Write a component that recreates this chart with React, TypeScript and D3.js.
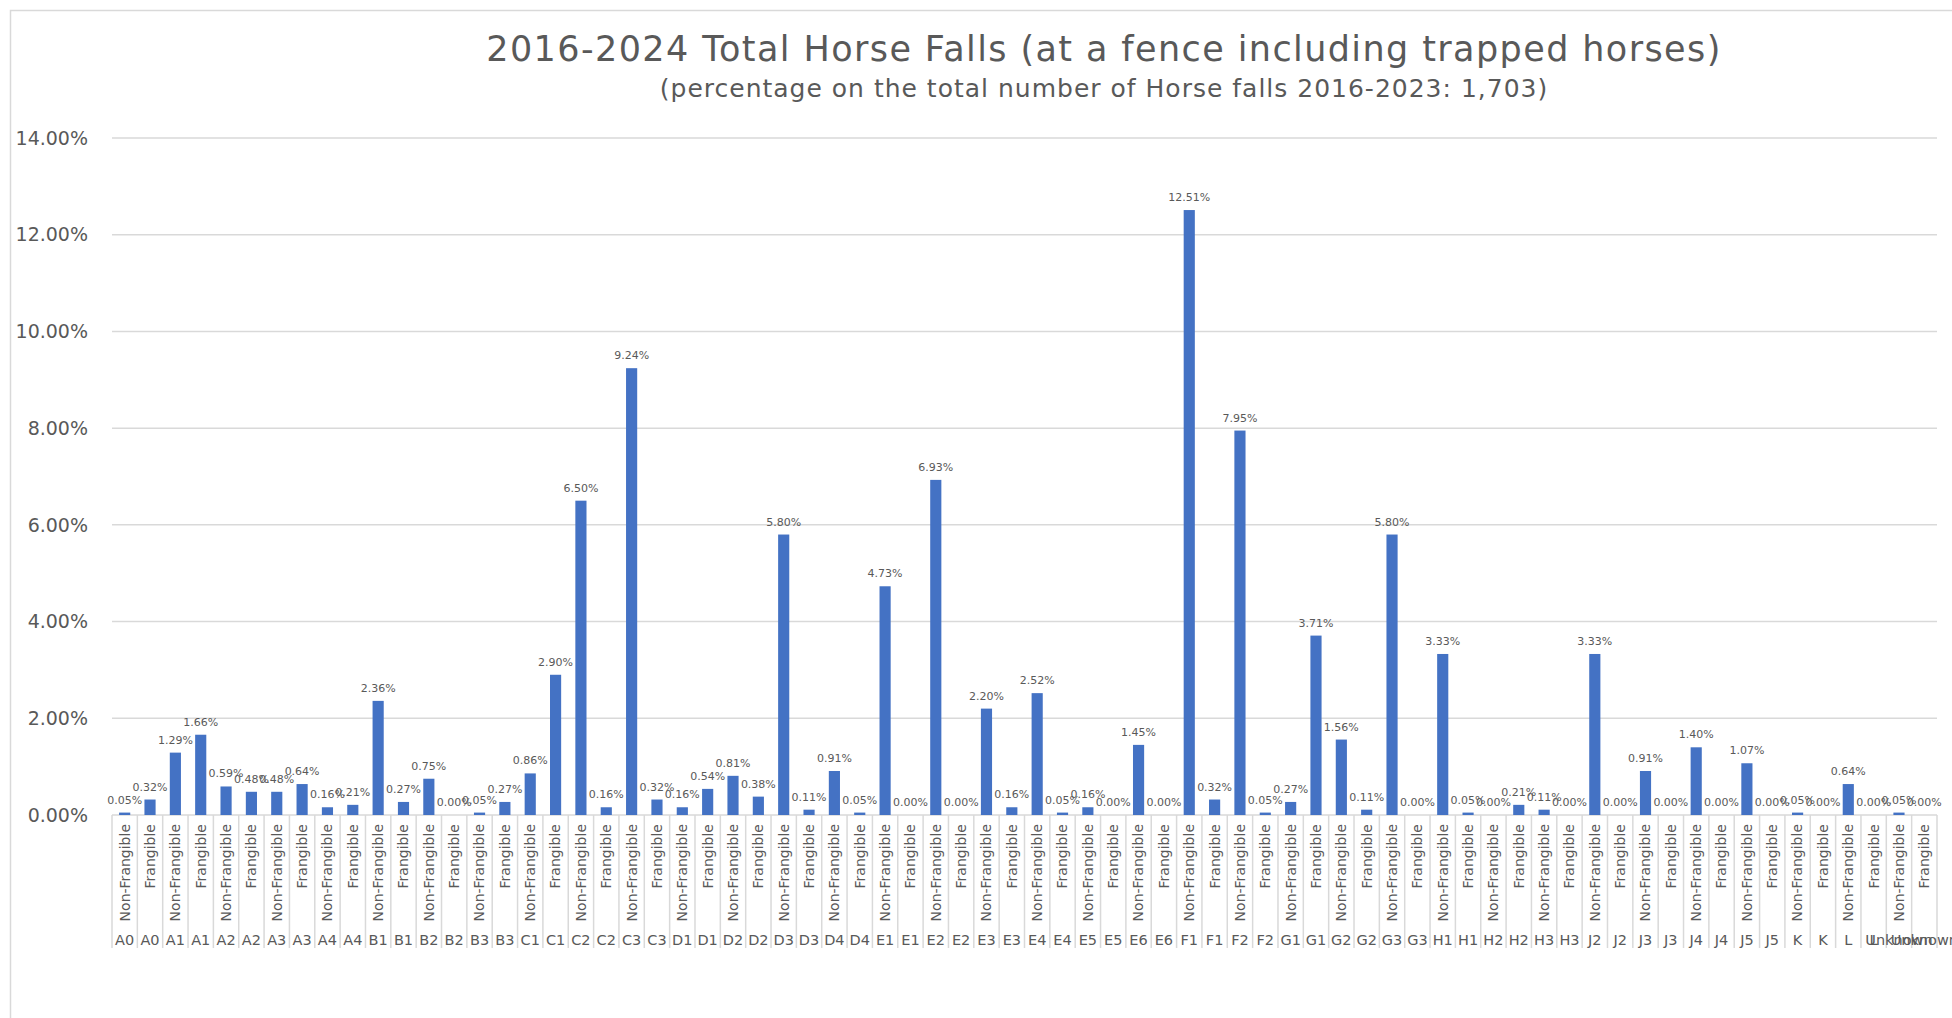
import React, { useEffect, useRef } from 'react';
import * as d3 from 'd3';

// fence categories, each one has a Non-Frangible and a Frangible bar
const categories = ['A0', 'A1', 'A2', 'A3', 'A4', 'B1', 'B2', 'B3', 'C1', 'C2', 'C3', 'D1', 'D2', 'D3', 'D4',
    'E1', 'E2', 'E3', 'E4', 'E5', 'E6', 'F1', 'F2', 'G1', 'G2', 'G3', 'H1', 'H2', 'H3', 'J2', 'J3', 'J4', 'J5',
    'K', 'L', 'Unknown'];
const fenceTypes = ['Non-Frangible', 'Frangible'];

// percentages, in category order
const nonFrangible = [0.05, 1.29, 0.59, 0.48, 0.16, 2.36, 0.75, 0.05, 0.86, 6.50, 9.24, 0.16, 0.81, 5.80, 0.91,
    4.73, 6.93, 2.20, 2.52, 0.16, 1.45, 12.51, 7.95, 0.27, 1.56, 5.80, 3.33, 0.00, 0.11, 3.33, 0.91, 1.40, 1.07,
    0.05, 0.64, 0.05];
const frangible = [0.32, 1.66, 0.48, 0.64, 0.21, 0.27, 0.00, 0.27, 2.90, 0.16, 0.32, 0.54, 0.38, 0.11, 0.05,
    0.00, 0.00, 0.16, 0.05, 0.00, 0.00, 0.32, 0.05, 3.71, 0.11, 0.00, 0.05, 0.21, 0.00, 0.00, 0.00, 0.00, 0.00,
    0.00, 0.00, 0.00];
const yTicks = [0, 2, 4, 6, 8, 10, 12, 14];

const title = '2016-2024 Total Horse Falls (at a fence including trapped horses)';
const subtitle = '(percentage on the total number of Horse falls 2016-2023: 1,703)';

const width = 1952;
const height = 1018;
const font = "'DejaVu Sans', Verdana, sans-serif";
const textColor = '#595959';
const gridColor = '#D9D9D9';

const HorseFallsChart: React.FC = () => {
    const ref = useRef<HTMLDivElement>(null);

    useEffect(() => {
        if (!ref.current) return;

        const data = categories.flatMap((c, i) => [
            { cat: c, type: fenceTypes[0], value: nonFrangible[i] },
            { cat: c, type: fenceTypes[1], value: frangible[i] },
        ]).map((d, i) => ({ ...d, idx: i }));

        const svg = d3.select(ref.current)
            .append('svg')
            .attr('width', width)
            .attr('height', height)
            .style('display', 'block')
            .style('background', '#fff');

        // chart frame
        svg.append('rect')
            .attr('x', 10.5).attr('y', 10.5)
            .attr('width', width + 20).attr('height', height + 20)
            .attr('fill', 'none')
            .attr('stroke', gridColor)
            .attr('stroke-width', 1.5);

        const plot = { left: 112, right: 1937, top: 138, bottom: 815 };

        const x = d3.scaleBand<number>()
            .domain(data.map(d => d.idx))
            .range([plot.left, plot.right])
            .paddingInner(0.56)
            .paddingOuter(0.28);
        const step = x.step();

        const y = d3.scaleLinear()
            .domain([0, 14])
            .range([plot.bottom, plot.top]);

        // titles
        svg.append('text')
            .attr('x', 1104).attr('y', 61)
            .attr('text-anchor', 'middle')
            .style('font-family', font).style('font-size', '35px')
            .style('letter-spacing', '1.4px')
            .attr('fill', textColor)
            .text(title);
        svg.append('text')
            .attr('x', 1104).attr('y', 97)
            .attr('text-anchor', 'middle')
            .style('font-family', font).style('font-size', '25px')
            .style('letter-spacing', '1px')
            .attr('fill', textColor)
            .text(subtitle);

        // gridlines + y labels
        const grid = svg.append('g');
        grid.selectAll('line')
            .data(yTicks)
            .enter()
            .append('line')
                .attr('x1', plot.left).attr('x2', plot.right)
                .attr('y1', d => y(d)).attr('y2', d => y(d))
                .attr('stroke', gridColor)
                .attr('stroke-width', 1.5);
        grid.selectAll('text')
            .data(yTicks)
            .enter()
            .append('text')
                .attr('x', 88)
                .attr('y', d => y(d))
                .attr('dy', '0.35em')
                .attr('text-anchor', 'end')
                .style('font-family', font).style('font-size', '19px')
                .attr('fill', textColor)
                .text(d => d.toFixed(2) + '%');

        // bars
        svg.append('g')
            .selectAll('rect')
            .data(data)
            .enter()
            .append('rect')
                .attr('x', d => x(d.idx)!)
                .attr('y', d => y(d.value))
                .attr('width', x.bandwidth())
                .attr('height', d => y(0) - y(d.value))
                .attr('fill', '#4472C4');

        // value labels
        svg.append('g')
            .selectAll('text')
            .data(data)
            .enter()
            .append('text')
                .attr('x', d => x(d.idx)! + x.bandwidth() / 2)
                .attr('y', d => y(d.value) - 9)
                .attr('text-anchor', 'middle')
                .style('font-family', font).style('font-size', '11px')
                .attr('fill', textColor)
                .text(d => d.value.toFixed(2) + '%');

        // category axis: dividers and the two label levels
        const axis = svg.append('g');
        axis.selectAll('line')
            .data(d3.range(data.length + 1))
            .enter()
            .append('line')
                .attr('x1', i => plot.left + i * step)
                .attr('x2', i => plot.left + i * step)
                .attr('y1', plot.bottom)
                .attr('y2', 948)
                .attr('stroke', gridColor)
                .attr('stroke-width', 1.5);

        axis.selectAll('text.type')
            .data(data)
            .enter()
            .append('text')
                .attr('class', 'type')
                .attr('transform', d => `translate(${x(d.idx)! + x.bandwidth() / 2}, 824) rotate(-90)`)
                .attr('dy', '0.35em')
                .attr('text-anchor', 'end')
                .style('font-family', font).style('font-size', '14px')
                .attr('fill', textColor)
                .text(d => d.type);

        axis.selectAll('text.cat')
            .data(data)
            .enter()
            .append('text')
                .attr('class', 'cat')
                .attr('x', d => x(d.idx)! + x.bandwidth() / 2)
                .attr('y', 945)
                .attr('text-anchor', 'middle')
                .style('font-family', font).style('font-size', '14.5px')
                .attr('fill', textColor)
                .text(d => d.cat);

        return () => {
            svg.remove();
        };
    }, []);

    return (
        <div style={{ position: 'absolute', left: 0, top: 0 }}>
            <div ref={ref}></div>
        </div>
    );
};

export default function App() {
    return <HorseFallsChart />;
}
